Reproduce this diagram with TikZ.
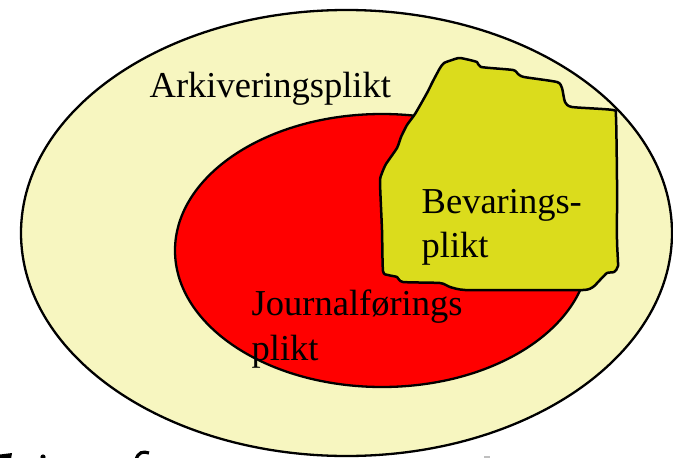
\documentclass[tikz,border=0pt]{standalone}
\usepackage{fontspec}
\setmainfont{Liberation Serif}
\usetikzlibrary{shapes.geometric}
\definecolor{paleyellow}{RGB}{247,246,192}
\definecolor{duskred}{RGB}{255,0,0}
\definecolor{limeyellow}{RGB}{219,220,28}
\tikzset{
  zone/.style={draw=black, line width=2.3pt, ellipse, inner sep=0pt, outer sep=0pt},
  label/.style={anchor=base west, inner sep=0pt, font=\fontsize{36.5}{44}\selectfont, text=black},
}
\begin{document}
\begin{tikzpicture}[x=1pt, y=-1pt]
  \useasboundingbox (0,0) rectangle (673,458);
  \clip (0,0) rectangle (673,458);
  % outer zone: archiving duty
  \node[zone, fill=paleyellow, minimum width=651pt, minimum height=446pt] (arkiv) at (346.5,233) {};
  % inner zone: registration duty
  \node[zone, fill=duskred, minimum width=414pt, minimum height=273pt] (journal) at (382,250.5) {};
  % irregular patch: preservation duty
  \path[draw=black, line width=2.5pt, line join=round, fill=limeyellow]
    plot[smooth cycle, tension=0.35] coordinates {
      (440,68) (444,63) (452,60) (460,58) (477,62) (481,67) (513,70) (518,74) (524,77)
      (557,82) (562,88) (565,102) (572,107) (613,110) (616,117) (617,180) (617,240)
      (618,266) (614,272) (607,273) (600,280) (593,287) (583,290) (520,290) (465,290)
      (450,287) (440,283) (403,282) (397,277) (388,275) (383,271) (382,230) (380,182)
      (382,173) (386,164) (397,148) (401,137) (407,125) (415,114) (427,93) (433,81)
    };
  \node[label] (arkivtxt) at (149.5,97) {Arkiveringsplikt};
  \node[label] (journaltxt1) at (251.5,315) {Journalførings};
  \node[label] (journaltxt2) at (251.5,360) {plikt};
  \node[label] (bevtxt1) at (421.5,213) {Bevarings-};
  \node[label] (bevtxt2) at (421.5,257) {plikt};
  % tops of the glyphs of the line below, cut by the lower edge
  \fill[black] (0,454.5) -- (12,453) -- (11,459) -- (0,459) -- cycle;
  \fill[black] (43,457) circle (2.6);
  \draw[black, line width=3.2pt] (136,460) .. controls (138,452) and (143,451) .. (149,453);
  \fill[black!25] (484,456) rectangle (490,459);
\end{tikzpicture}
\end{document}
